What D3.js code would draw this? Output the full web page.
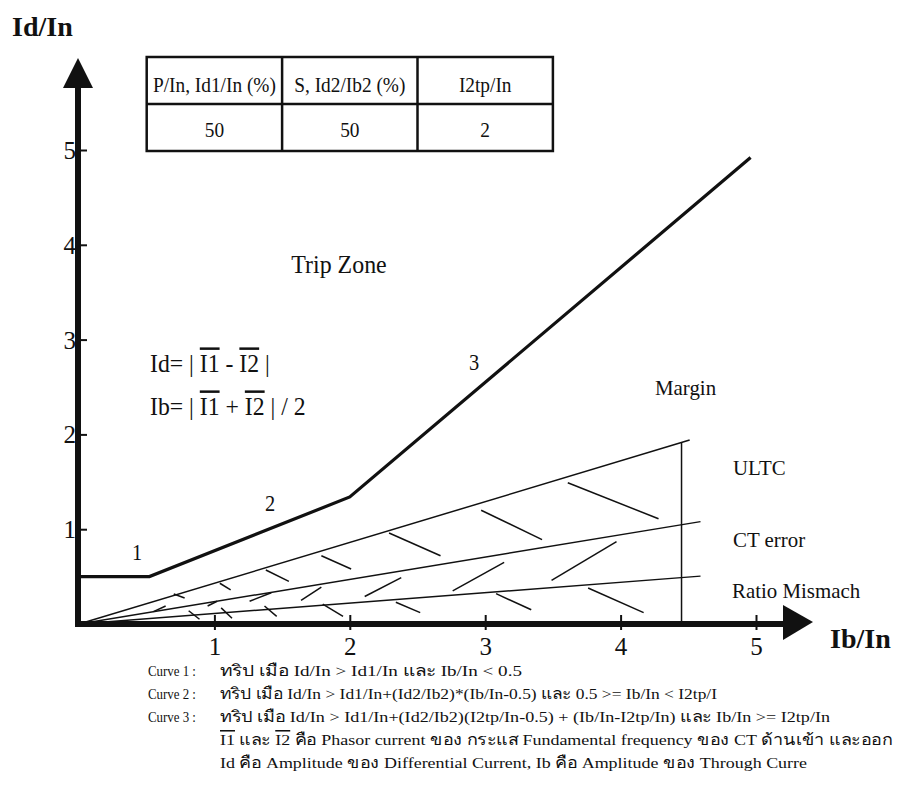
<!DOCTYPE html>
<html>
<head>
<meta charset="utf-8">
<script src="https://cdn.jsdelivr.net/npm/d3@7"></script>
<style>
  html, body { margin: 0; padding: 0; background: #fff; }
  svg { display: block; }
  text { font-family: "Liberation Serif", "Times New Roman", "DejaVu Serif", serif; fill: #111; }
  .ov { text-decoration: overline; }
</style>
</head>
<body>
<svg id="chart" width="903" height="796"></svg>
<script>
// ---------------- data ----------------
const xTicks = [1, 2, 3, 4, 5];
const yTicks = [1, 2, 3, 4, 5];

// trip characteristic (curves 1, 2, 3): [Ib/In, Id/In]
const tripCurve = [[0, 0.5], [0.52, 0.5], [2.0, 1.34], [4.96, 4.92]];

// margin lines from origin
const ultcLine    = [[0, 0], [4.51, 1.94]];
const ctErrorLine = [[0, 0], [4.59, 1.08]];
const ratioLine   = [[0, 0], [4.59, 0.505]];
const marginLine  = [[4.45, 0], [4.45, 1.92]];

// hatch strokes: [x1, y1, x2, y2] in Ib/In, Id/In units
const hatchUltc = [
  [0.70, 0.316, 0.78, 0.274], [1.04, 0.43, 1.12, 0.36], [1.38, 0.57, 1.55, 0.45],
  [1.79, 0.72, 2.01, 0.58], [2.29, 0.96, 2.67, 0.72], [2.97, 1.20, 3.42, 0.89],
  [3.61, 1.49, 4.28, 1.11]
];
const hatchCt = [
  [0.55, 0.13, 0.64, 0.19], [0.95, 0.19, 1.02, 0.24], [1.26, 0.24, 1.42, 0.33],
  [1.64, 0.25, 1.79, 0.39], [2.11, 0.29, 2.38, 0.49], [2.76, 0.35, 3.14, 0.65],
  [3.49, 0.46, 3.97, 0.87]
];
const hatchRatio = [
  [0.81, 0.14, 0.89, 0.05], [1.05, 0.17, 1.13, 0.06], [1.37, 0.19, 1.46, 0.08],
  [1.80, 0.21, 1.95, 0.08], [2.34, 0.23, 2.52, 0.12], [3.08, 0.32, 3.34, 0.15],
  [3.76, 0.38, 4.17, 0.12]
];

// settings table
const tableHeaders = ["P/In, Id1/In (%)", "S, Id2/Ib2 (%)", "I2tp/In"];
const tableValues  = ["50", "50", "2"];

const curveLabels = ["1", "2", "3"];
const zoneLabels  = ["Margin", "ULTC", "CT error", "Ratio Mismach"];

const noteKeys = ["Curve 1 :", "Curve 2 :", "Curve 3 :"];
const noteLines = [
  [{t: "ทริป เมือ Id/In > Id1/In  และ  Ib/In < 0.5"}],
  [{t: "ทริป เมือ Id/In > Id1/In+(Id2/Ib2)*(Ib/In-0.5)  และ  0.5 >= Ib/In < I2tp/I"}],
  [{t: "ทริป เมือ Id/In > Id1/In+(Id2/Ib2)(I2tp/In-0.5) + (Ib/In-I2tp/In)  และ  Ib/In >= I2tp/In"}],
  [{t: "I1", o: true}, {t: " และ "}, {t: "I2", o: true}, {t: " คือ Phasor current ของ กระแส Fundamental frequency ของ CT ด้านเข้า และออก"}],
  [{t: "Id คือ Amplitude ของ Differential Current, Ib คือ Amplitude ของ Through Curre"}]
];

// ---------------- drawing ----------------
const svg = d3.select("#chart");
const x = d3.scaleLinear().domain([0, 5]).range([79, 756]);
const y = d3.scaleLinear().domain([0, 5]).range([624, 150]);
const line = d3.line().x(d => x(d[0])).y(d => y(d[1]));

function label(sel, px, py, txt, size, opts = {}) {
  const t = sel.append("text")
    .attr("transform", `translate(${px},${py}) scale(${opts.sx || 1},1)`)
    .attr("font-size", size)
    .attr("text-anchor", opts.anchor || "start")
    .attr("font-weight", opts.weight || "normal");
  if (Array.isArray(txt)) {
    txt.forEach(p => t.append("tspan").attr("class", p.o ? "ov" : null).text(p.t));
  } else t.text(txt);
  return t;
}

// table
const tg = svg.append("g");
const tTop = 57, tMid = 104, tBot = 151;
tg.append("rect").attr("x", x(0.5)).attr("y", tTop)
  .attr("width", x(3.5) - x(0.5)).attr("height", tBot - tTop)
  .attr("fill", "none").attr("stroke", "#111").attr("stroke-width", 2.5);
tg.append("line").attr("x1", x(0.5)).attr("x2", x(3.5)).attr("y1", tMid).attr("y2", tMid)
  .attr("stroke", "#111").attr("stroke-width", 2.5);
[1.5, 2.5].forEach(c => tg.append("line").attr("x1", x(c)).attr("x2", x(c))
  .attr("y1", tTop).attr("y2", tBot).attr("stroke", "#111").attr("stroke-width", 2.5));
tableHeaders.forEach((h, i) => label(tg, x(1 + i), 92, h, 21.5, {anchor: "middle", sx: 0.9}));
tableValues.forEach((v, i) => label(tg, x(1 + i), 137, v, 21.5, {anchor: "middle", sx: 0.9}));

// margin lines
[ultcLine, ctErrorLine, ratioLine, marginLine].forEach(d =>
  svg.append("path").attr("d", line(d)).attr("fill", "none")
    .attr("stroke", "#111").attr("stroke-width", 1.5));

// hatches
svg.append("g").selectAll("line").data([...hatchUltc, ...hatchCt, ...hatchRatio]).join("line")
  .attr("x1", d => x(d[0])).attr("y1", d => y(d[1]))
  .attr("x2", d => x(d[2])).attr("y2", d => y(d[3]))
  .attr("stroke", "#111").attr("stroke-width", 1.5);

// trip curve
svg.append("path").attr("d", line(tripCurve)).attr("fill", "none")
  .attr("stroke", "#111").attr("stroke-width", 3.2).attr("stroke-linejoin", "miter");

// axes
const ax = svg.append("g").attr("transform", `translate(0,${y(0)})`)
  .call(d3.axisBottom(x).tickValues(xTicks).tickFormat(d3.format("d")));
ax.select(".domain").remove();
ax.selectAll(".tick line").attr("y1", -9).attr("y2", 6).attr("stroke", "#111").attr("stroke-width", 2);
ax.selectAll(".tick text").attr("y", 31).attr("dy", 0).attr("font-size", 25)
  .attr("font-family", null).attr("fill", "#111");

const ay = svg.append("g").attr("transform", `translate(${x(0) - 1},0)`)
  .call(d3.axisLeft(y).tickValues(yTicks).tickFormat(d3.format("d")));
ay.select(".domain").remove();
ay.selectAll(".tick line").attr("x1", 0).attr("x2", 9).attr("stroke", "#111").attr("stroke-width", 2);
ay.selectAll(".tick text").attr("x", -2).attr("dy", "0.34em").attr("font-size", 25)
  .attr("font-family", null).attr("fill", "#111");

// axis lines with arrows
const x0 = x(0) - 1, y0 = y(0);
svg.append("line").attr("x1", x0).attr("x2", x0).attr("y1", y0 + 3).attr("y2", 86)
  .attr("stroke", "#111").attr("stroke-width", 6);
svg.append("path").attr("d", `M${x0 - 15},88 L${x0 + 15},88 L${x0},58 Z`).attr("fill", "#111");
svg.append("line").attr("x1", x0 - 3).attr("x2", 786).attr("y1", y0).attr("y2", y0)
  .attr("stroke", "#111").attr("stroke-width", 6);
svg.append("path").attr("d", `M783,${y0 - 19} L783,${y0 + 16} L813,${y0 - 2} Z`).attr("fill", "#111");

// axis titles
label(svg, 12, 36, "Id/In", 28, {weight: "bold"});
label(svg, 830, 648, "Ib/In", 28, {weight: "bold"});

// curve labels
label(svg, 137, 560, curveLabels[0], 24, {anchor: "middle", sx: 0.85});
label(svg, 270, 511, curveLabels[1], 24, {anchor: "middle", sx: 0.85});
label(svg, 474, 370, curveLabels[2], 24, {anchor: "middle", sx: 0.85});

// zone texts
label(svg, 339, 273, "Trip Zone", 26, {anchor: "middle", sx: 0.92});
label(svg, 150, 372, [{t: "Id= | "}, {t: "I1", o: true}, {t: " - "}, {t: "I2", o: true}, {t: " |"}], 25, {sx: 0.95});
label(svg, 150, 415, [{t: "Ib= | "}, {t: "I1", o: true}, {t: " + "}, {t: "I2", o: true}, {t: " | / 2"}], 25, {sx: 0.95});

label(svg, 655, 395, zoneLabels[0], 22, {sx: 0.95});
label(svg, 733, 475, zoneLabels[1], 22, {sx: 0.95});
label(svg, 733, 547, zoneLabels[2], 22, {sx: 0.95});
label(svg, 732, 598, zoneLabels[3], 22, {sx: 0.95});

// notes
const noteBase = [676, 699, 722, 745, 768];
const noteStart = 220;
const noteEnd = [522, 717, 830, 892, 807];
noteKeys.forEach((k, i) => label(svg, 148, noteBase[i], k, 14, {sx: 0.92}));
noteLines.forEach((parts, i) => {
  const t = svg.append("text").attr("x", noteStart).attr("y", noteBase[i]).attr("font-size", 15.5);
  parts.forEach(p => t.append("tspan").attr("class", p.o ? "ov" : null).text(p.t));
  t.attr("textLength", noteEnd[i] - noteStart).attr("lengthAdjust", "spacingAndGlyphs");
});
</script>
</body>
</html>
